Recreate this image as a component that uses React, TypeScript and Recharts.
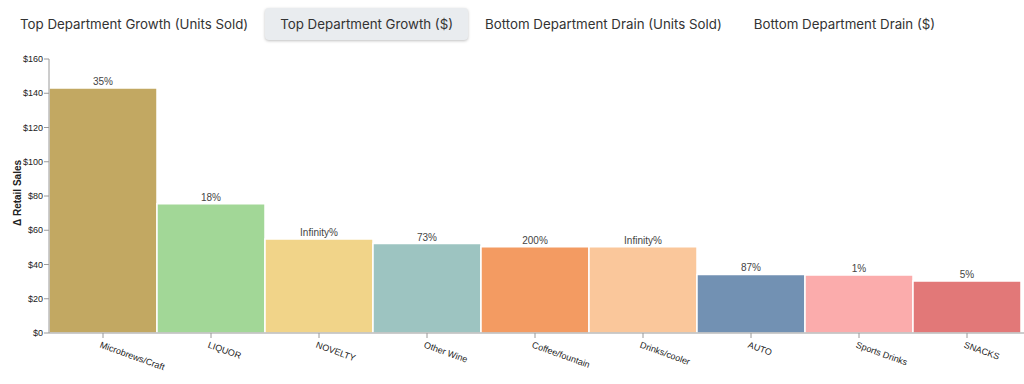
import React from 'react';
import { BarChart, Bar, XAxis, YAxis, Cell, LabelList } from 'recharts';

const tabs = [
  'Top Department Growth (Units Sold)',
  'Top Department Growth ($)',
  'Bottom Department Drain (Units Sold)',
  'Bottom Department Drain ($)',
];
const activeTab = 1;

const departments = [
  'Microbrews/Craft',
  'LIQUOR',
  'NOVELTY',
  'Other Wine',
  'Coffee/fountain',
  'Drinks/cooler',
  'AUTO',
  'Sports Drinks',
  'SNACKS',
];
const salesDelta = [143.1, 75.5, 54.9, 52.2, 50.3, 50.3, 34.2, 33.8, 30.3];
const pctChange = [35, 18, Infinity, 73, 200, Infinity, 87, 1, 5];
const barColors = [
  '#c2a862',
  '#a2d797',
  '#f1d489',
  '#9dc4c1',
  '#f39b62',
  '#fac79b',
  '#7291b3',
  '#fbacac',
  '#e27878',
];
const yTicks = [0, 20, 40, 60, 80, 100, 120, 140, 160];

const data = departments.map((name, i) => ({
  name,
  value: salesDelta[i],
  pct: pctChange[i],
}));

const axisFont = '"Liberation Sans", Arial, sans-serif';

// rotated category labels hanging off each tick
function SlantTick(props: any) {
  const { x, y, payload } = props;
  return (
    <g transform={`translate(${x},${y})`}>
      <text
        x={0}
        y={0}
        dx={-1}
        dy={8}
        transform="rotate(20)"
        textAnchor="start"
        fontSize={9}
        fontFamily={axisFont}
        fill="#222"
      >
        {payload.value}
      </text>
    </g>
  );
}

export default function App() {
  return (
    <div
      style={{
        position: 'absolute',
        top: 0,
        left: 0,
        width: 1024,
        height: 384,
        overflow: 'hidden',
        background: '#fff',
      }}
    >
      <div
        style={{
          position: 'absolute',
          top: 8,
          left: 5,
          display: 'flex',
          fontFamily: 'Inter, "Noto Sans", sans-serif',
          fontSize: 13.3,
          color: '#333',
        }}
      >
        {tabs.map((t, i) => (
          <div
            key={t}
            style={{
              height: 32,
              lineHeight: '32px',
              padding: '0 15px',
              marginRight: 2,
              borderRadius: 4,
              whiteSpace: 'nowrap',
              background: i === activeTab ? '#e9ecef' : 'transparent',
              boxShadow: i === activeTab ? '0 1px 3px rgba(0,0,0,0.25)' : 'none',
            }}
          >
            {t}
          </div>
        ))}
      </div>

      <div style={{ position: 'absolute', top: 48, left: 0 }}>
        <BarChart
          width={1024}
          height={336}
          data={data}
          margin={{ top: 11, right: 0, left: 0, bottom: 0 }}
          barCategoryGap={0}
        >
          <XAxis
            dataKey="name"
            height={51}
            interval={0}
            padding={{ left: 0, right: 3 }}
            tick={<SlantTick />}
            tickSize={5}
            stroke="#9a9a9a"
          />
          <YAxis
            width={49}
            domain={[0, 160]}
            ticks={yTicks}
            tickFormatter={(v: number) => `$${v}`}
            tickSize={5}
            tickMargin={1}
            stroke="#9a9a9a"
            tick={{ fontSize: 9, fill: '#222', fontFamily: axisFont }}
            label={{
              value: 'Δ Retail Sales',
              angle: -90,
              position: 'center',
              dx: -7,
              dy: -3,
              style: { fontSize: 10, fontWeight: 'bold', fill: '#222', fontFamily: axisFont },
            }}
          />
          <Bar dataKey="value" stroke="#fff" strokeWidth={1.5} isAnimationActive={false}>
            {data.map((d, i) => (
              <Cell key={d.name} fill={barColors[i]} />
            ))}
            <LabelList
              dataKey="pct"
              position="top"
              offset={3}
              formatter={(v: any) => `${v}%`}
              style={{ fontSize: 10, fill: '#444', fontFamily: axisFont }}
            />
          </Bar>
        </BarChart>
      </div>
    </div>
  );
}
